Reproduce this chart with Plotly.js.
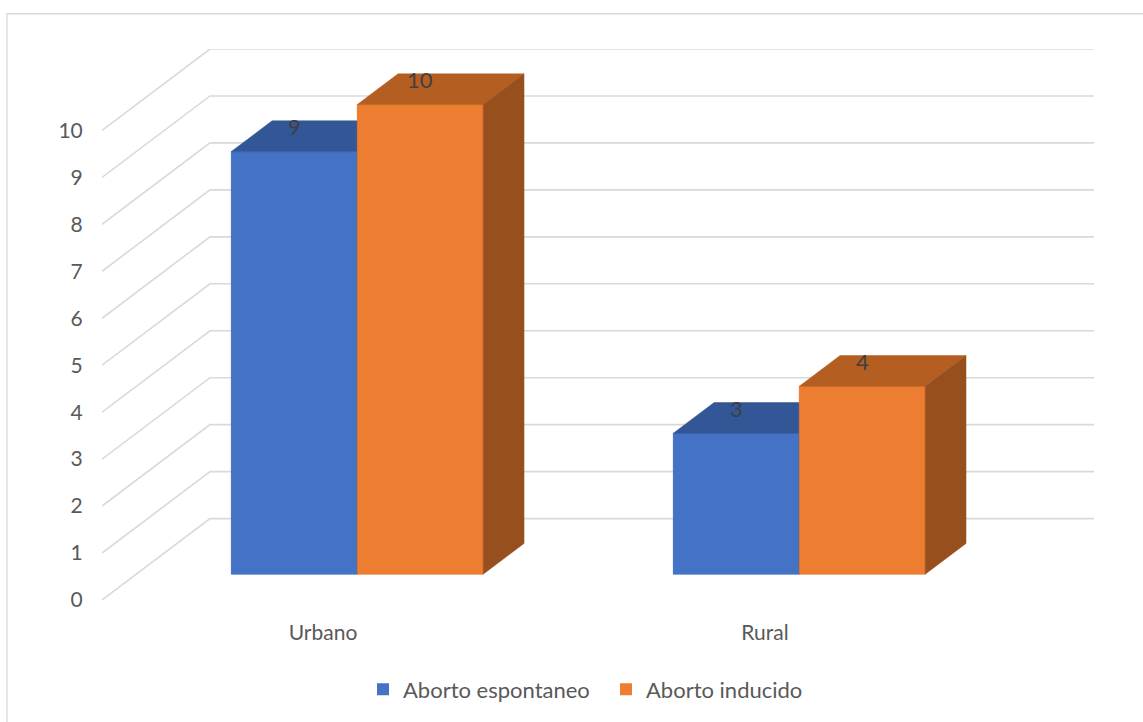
<!DOCTYPE html>
<html>
<head>
<meta charset="utf-8">
<script src="https://cdn.plot.ly/plotly-3.0.1.min.js"></script>
<style>html,body{margin:0;padding:0;background:#fff;}</style>
</head>
<body>
<div id="chart" style="width:1143px;height:722px;"></div>
<script>
// ---- data ----
const categories = ['Urbano', 'Rural'];
const seriesNames = ['Aborto espontaneo', 'Aborto inducido'];
const abortoEspontaneo = [9, 3];
const abortoInducido = [10, 4];
const yTickValues = [0, 1, 2, 3, 4, 5, 6, 7, 8, 9, 10];

// ---- styling / pseudo-3D geometry ----
const seriesValues = [abortoEspontaneo, abortoInducido];
const frontColors = ['#4472C4', '#ED7D31'];
const topColors = ['#325696', '#B55E22'];
const sideColors = ['#2A4A82', '#984F1E'];
const DX = 108 / 442;       // depth shift in category units
const DY = 82 / 47.29;      // depth shift in value units
const D0 = 0.317, D1 = 0.695; // bar front/back depth fractions
const W = 0.285;            // bar width in category units
const FONT = 'Lato, "Open Sans", sans-serif';

const ML = 102, MR = 49, MT = 49, MB = 118, WIDTH = 1143, HEIGHT = 722;
const plotW = WIDTH - ML - MR, plotH = HEIGHT - MT - MB;
const px2paperX = p => (p - ML) / plotW;
const px2paperY = p => (HEIGHT - MB - p) / plotH;

const traces = [];
// bar traces (front faces, used for legend)
seriesValues.forEach((vals, si) => {
  traces.push({
    type: 'bar',
    name: seriesNames[si],
    x: categories.map((_, ci) => ci + D0 * DX),
    y: vals,
    base: D0 * DY,
    width: W,
    offset: si === 0 ? -W : 0,
    marker: {color: frontColors[si], line: {width: 0}},
    hoverinfo: 'skip'
  });
});

// faces drawn in painter order
const ddx = (D1 - D0) * DX, ddy = (D1 - D0) * DY;
const annotations = [];
categories.forEach((cat, ci) => {
  seriesValues.forEach((vals, si) => {
    const v = vals[ci];
    const xl = ci + D0 * DX + (si === 0 ? -W : 0);
    const xr = xl + W;
    const yb = D0 * DY, yt = yb + v;
    const faces = [
      {x: [xl, xr, xr, xl, xl], y: [yb, yb, yt, yt, yb], c: frontColors[si]},
      {x: [xl, xr, xr + ddx, xl + ddx, xl], y: [yt, yt, yt + ddy, yt + ddy, yt], c: topColors[si]},
      {x: [xr, xr + ddx, xr + ddx, xr, xr], y: [yb, yb + ddy, yt + ddy, yt, yb], c: sideColors[si]}
    ];
    faces.forEach(f => traces.push({
      type: 'scatter', mode: 'lines', x: f.x, y: f.y, fill: 'toself',
      fillcolor: f.c, line: {color: f.c, width: 0.5},
      showlegend: false, hoverinfo: 'skip'
    }));
    annotations.push({
      x: (xl + xr) / 2, y: yt, xref: 'x', yref: 'y', text: String(v),
      showarrow: false, yshift: 25,
      font: {family: FONT, size: 22, color: '#404040'}
    });
  });
});

// gridlines: left wall diagonals + back wall
const shapes = yTickValues.map(v => ({
  type: 'path', xref: 'x', yref: 'y', layer: 'below',
  path: `M ${-0.5} ${v} L ${-0.5 + DX} ${v + DY} L ${categories.length - 0.5 + DX} ${v + DY}`,
  line: {color: '#D9D9D9', width: 1.6}
}));
// outer chart border
shapes.push({
  type: 'rect', xref: 'paper', yref: 'paper', layer: 'below',
  x0: px2paperX(7), x1: px2paperX(1160), y0: px2paperY(740), y1: px2paperY(13.5),
  line: {color: '#D9D9D9', width: 1.3}, fillcolor: 'rgba(0,0,0,0)'
});

const layout = {
  width: WIDTH, height: HEIGHT,
  margin: {l: ML, r: MR, t: MT, b: MB, pad: 0},
  paper_bgcolor: '#ffffff', plot_bgcolor: '#ffffff',
  barmode: 'overlay',
  showlegend: true,
  font: {family: FONT, color: '#595959'},
  xaxis: {
    type: 'linear', range: [-0.5, categories.length - 0.5 + DX],
    tickvals: categories.map((_, i) => i), ticktext: categories,
    showgrid: false, zeroline: false, showline: false,
    ticks: 'outside', ticklen: 14, tickcolor: 'rgba(0,0,0,0)',
    tickfont: {family: FONT, size: 21, color: '#595959'},
    fixedrange: true
  },
  yaxis: {
    range: [0, 10 + DY],
    tickvals: yTickValues, ticktext: yTickValues.map(String),
    showgrid: false, zeroline: false, showline: false,
    ticks: 'outside', ticklen: 14, tickcolor: 'rgba(0,0,0,0)',
    tickfont: {family: FONT, size: 21, color: '#595959'},
    fixedrange: true
  },
  legend: {
    orientation: 'h', x: px2paperX(363), xanchor: 'left',
    y: px2paperY(694), yanchor: 'middle',
    font: {family: FONT, size: 22, color: '#595959'},
    itemwidth: 30, entrywidth: 198, entrywidthmode: 'pixels',
    itemclick: false, itemdoubleclick: false, traceorder: 'normal'
  },
  shapes: shapes,
  annotations: annotations
};

Plotly.newPlot('chart', traces, layout, {displayModeBar: false, staticPlot: true});
</script>
</body>
</html>
